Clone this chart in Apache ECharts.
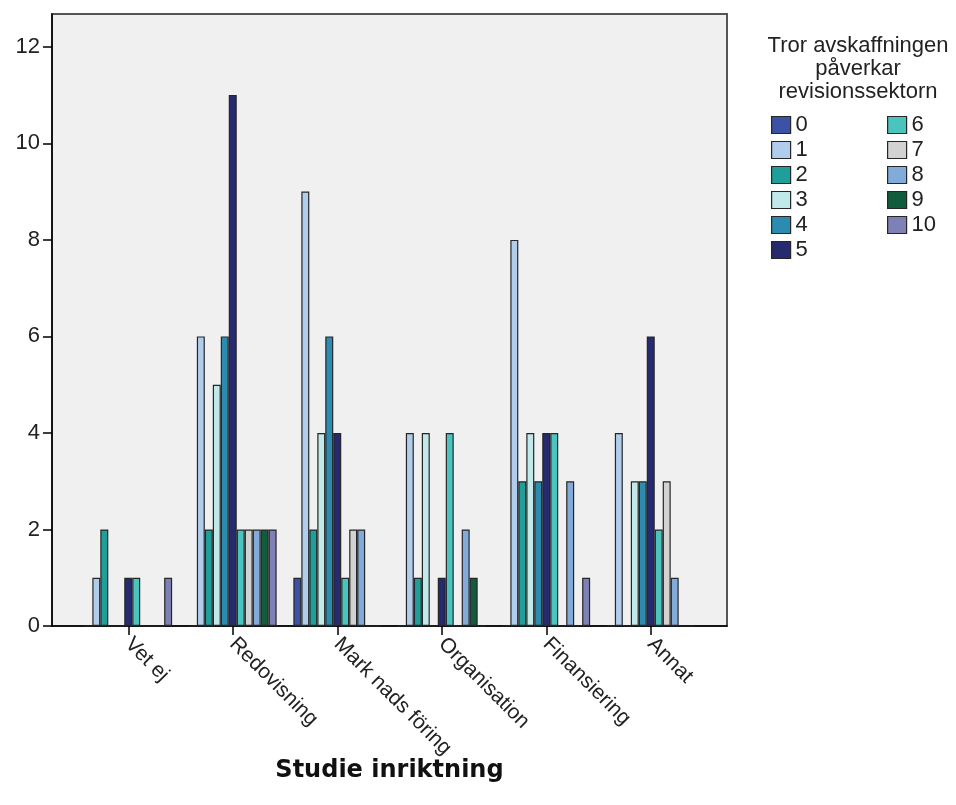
<!DOCTYPE html>
<html>
<head>
<meta charset="utf-8">
<script src="https://cdn.jsdelivr.net/npm/echarts@6/dist/echarts.min.js"></script>
<style>
html,body{margin:0;padding:0;background:#fff;}
#chart{width:956px;height:805px;}
</style>
</head>
<body>
<div id="chart"></div>
<script>
const categories = ['Vet ej', 'Redovisning', 'Mark nads föring', 'Organisation', 'Finansiering', 'Annat'];
const seriesNames = ['0', '1', '2', '3', '4', '5', '6', '7', '8', '9', '10'];
const v0  = [0, 0, 1, 0, 0, 0];
const v1  = [1, 6, 9, 4, 8, 4];
const v2  = [2, 2, 2, 1, 3, 0];
const v3  = [0, 5, 4, 4, 4, 3];
const v4  = [0, 6, 6, 0, 3, 3];
const v5  = [1, 11, 4, 1, 4, 6];
const v6  = [1, 2, 1, 4, 4, 2];
const v7  = [0, 2, 2, 0, 0, 3];
const v8  = [0, 2, 2, 2, 3, 1];
const v9  = [0, 2, 0, 1, 0, 0];
const v10 = [1, 2, 0, 0, 1, 0];
const seriesValues = [v0, v1, v2, v3, v4, v5, v6, v7, v8, v9, v10];
const colors = ['#3c52a6', '#b0cdec', '#1f9f99', '#c2e9e9', '#2b8bb0', '#262b70',
                '#49c4bf', '#d2d2d2', '#82abd9', '#115c3c', '#7e80b6'];
const yTicks = [0, 2, 4, 6, 8, 10, 12];
const legendTitle = 'Tror avskaffningen\npåverkar\nrevisionssektorn';
const axisTitle = 'Studie inriktning';

const chart = echarts.init(document.getElementById('chart'), null, {renderer: 'canvas'});
const YMAX = 12.68;
const font = '"Liberation Sans", Arial, sans-serif';

const series = seriesNames.map((name, i) => ({
  name: name,
  type: 'bar',
  xAxisIndex: 1,
  yAxisIndex: 1,
  data: seriesValues[i],
  barGap: '0%',
  barCategoryGap: '16%',
  itemStyle: { color: colors[i], borderColor: '#262626', borderWidth: 1.2 },
  emphasis: { disabled: true }
}));

const legendCommon = {
  orient: 'vertical',
  icon: 'rect',
  padding: 0,
  itemWidth: 19,
  itemHeight: 17,
  itemGap: 3,
  textStyle: { fontFamily: font, fontSize: 22, color: '#222' },
  itemStyle: { borderColor: '#262626', borderWidth: 1.2 },
  selectedMode: false
};

chart.setOption({
  animation: false,
  backgroundColor: '#ffffff',
  color: colors,
  grid: [
    { left: 52, top: 14, right: 229, bottom: 179, show: true, backgroundColor: '#f0f0f0', borderColor: '#555', borderWidth: 2, containLabel: false },
    { left: 76, top: 14, right: 253, bottom: 179, containLabel: false }
  ],
  xAxis: [
    { gridIndex: 0, type: 'value', min: 0, max: 1, axisLine: { show: true, onZero: false, lineStyle: { color: '#000', width: 1.5 } },
      axisTick: { show: false }, axisLabel: { show: false }, splitLine: { show: false } },
    { gridIndex: 1, type: 'category', data: categories, boundaryGap: true,
      axisLine: { show: false, onZero: false },
      axisTick: { show: true, alignWithLabel: true, length: 9, lineStyle: { color: '#000', width: 1.5 } },
      axisLabel: { rotate: -45, margin: 15, fontFamily: font, fontSize: 21, color: '#222', interval: 0 },
      name: axisTitle, nameLocation: 'middle', nameGap: 133, nameMoveOverlap: false,
      nameTextStyle: { fontFamily: '"DejaVu Sans", Verdana, sans-serif', fontWeight: 'bold', fontSize: 24, color: '#111', verticalAlign: 'top' },
      splitLine: { show: false } }
  ],
  yAxis: [
    { gridIndex: 0, type: 'value', min: 0, max: YMAX, interval: 2,
      axisLine: { show: true, lineStyle: { color: '#000', width: 1.5 } },
      axisTick: { show: true, length: 9, lineStyle: { color: '#000', width: 1.5 } },
      axisLabel: { margin: 12, fontFamily: font, fontSize: 22, color: '#222', showMaxLabel: false,
        formatter: v => (yTicks.indexOf(v) >= 0 ? String(v) : '') },
      splitLine: { show: false } },
    { gridIndex: 1, type: 'value', min: 0, max: YMAX, show: false }
  ],
  legend: [
    Object.assign({}, legendCommon, { left: 771, top: 114, data: seriesNames.slice(0, 6) }),
    Object.assign({}, legendCommon, { left: 887, top: 114, data: seriesNames.slice(6) })
  ],
  title: {
    text: legendTitle,
    left: 853, top: 29, textAlign: 'center',
    textStyle: { fontFamily: font, fontSize: 22, fontWeight: 'normal', color: '#222', lineHeight: 23 }
  },
  series: series
});
</script>
</body>
</html>
